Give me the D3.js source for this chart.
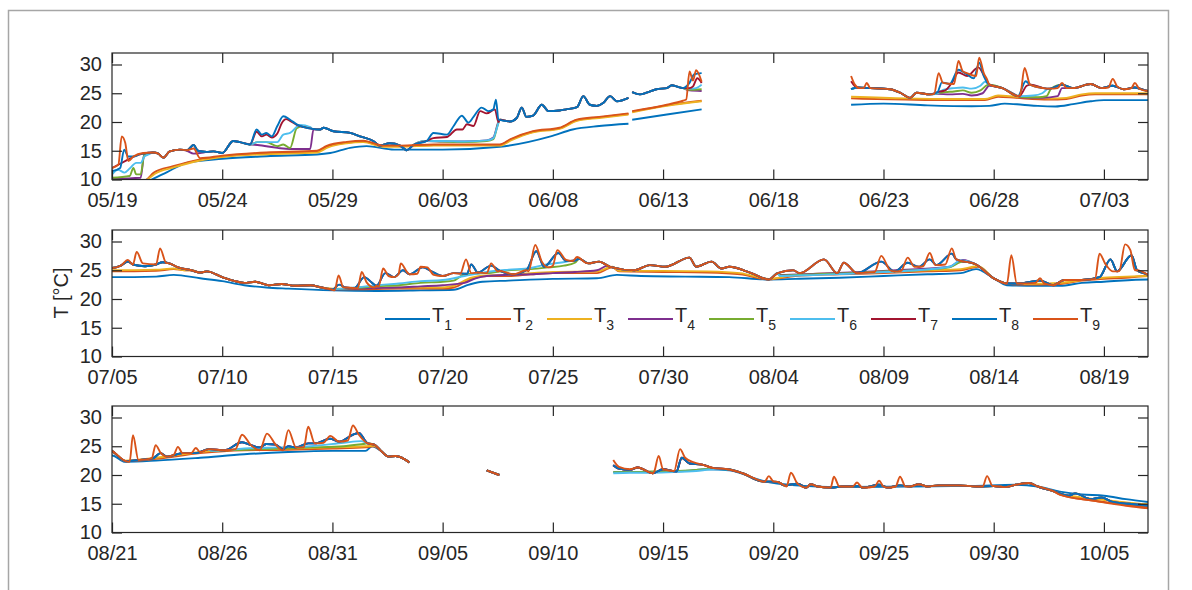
<!DOCTYPE html>
<html>
<head>
<meta charset="utf-8">
<script src="https://cdn.jsdelivr.net/npm/d3@7"></script>
<style>
body{margin:0;background:#fff;}
text{font-family:"Liberation Sans",Arial,Helvetica,sans-serif;fill:#262626;}
</style>
</head>
<body>
<svg id="chart" width="1192" height="590"></svg>
<script>
// days counted from 05/19 (day 0); every panel shows 47 days
const seriesNames=["1","2","3","4","5","6","7","8","9"];
const colors=["#0072BD","#D95319","#EDB120","#7E2F8E","#77AC30","#4DBEEE","#A2142F","#0072BD","#D95319"];
const panelStarts=[0,47,94];
const yTicks=[10,15,20,25,30];

// common track of the upper sensors, one array per data block
const baseA=[[0,12.0],[0.7,13.4],[1.0,14.0],[1.4,14.5],[1.87,14.7],[2.1,14.5],[2.33,13.8],[2.62,14.9],[3.08,15.2],[3.4,15.1],[3.7,16.0],[3.9,15.0],[4.3,14.8],[4.6,14.9],[5.0,14.6],[5.5,16.7],[5.8,16.5],[6.26,16.1],[6.56,18.7],[6.8,17.8],[7.0,18.1],[7.25,17.5],[7.5,19.3],[7.77,21.0],[8.08,20.4],[8.38,19.6],[8.7,19.1],[9.1,18.8],[9.44,18.7],[9.6,19.0],[10.05,18.4],[10.8,18.1],[11.25,17.5],[11.85,16.7],[12.15,15.9],[12.6,16.3],[13.07,15.9],[13.37,15.1],[13.67,16.0],[14.28,16.7],[14.58,18.1],[15.2,17.8],[15.5,19.3],[15.87,21.1],[16.17,19.9],[16.4,20.9],[16.77,22.5],[17.07,21.9],[17.3,22.2],[17.42,23.9],[17.53,20.4],[18.06,20.1],[18.36,20.7],[18.59,22.5],[18.8,20.9],[19.1,21.1],[19.5,23.0],[19.8,21.9],[20.3,22.0],[20.6,22.2],[21.1,22.6],[21.38,24.5],[21.68,23.0],[22.0,22.8],[22.28,23.3],[22.6,24.5],[22.9,23.6],[23.43,24.2]];
const baseB=[[23.6,25.2],[23.95,24.8],[24.25,25.1],[24.7,25.7],[25.17,25.9],[25.4,26.4],[25.6,26.2],[25.9,25.9],[26.2,26.8],[26.42,28.3],[26.75,28.5]];
const baseC=[[33.53,25.7],[33.8,26.0],[34.4,25.9],[35.3,25.7],[35.8,25.0],[36.2,24.2],[36.5,25.1],[37.1,24.8],[37.45,25.2],[37.65,26.9],[38.0,26.6],[38.4,29.1],[38.78,28.3],[39.1,27.6],[39.34,30.3],[39.55,28.0],[39.8,26.5],[40.4,25.9],[41.1,24.5],[41.45,27.1],[41.65,26.5],[42.25,25.9],[42.55,25.8],[43.1,26.5],[43.6,25.9],[44.4,26.6],[44.9,25.9],[45.4,26.3],[45.9,25.7],[46.4,26.0],[47.0,25.4],[47.4,25.8],[47.72,26.5],[47.95,26.0],[48.5,25.7],[49.0,26.0],[49.3,26.4],[49.6,26.2],[50.0,25.5],[50.6,25.0],[51.0,24.6],[51.3,24.8],[52.0,23.8],[52.5,23.2],[53.0,22.8],[53.5,23.0],[54.1,22.4],[54.7,22.6],[55.3,22.3],[56.0,22.4],[56.5,22.0],[57.0,21.6],[57.3,22.5],[57.6,22.0],[58.0,21.9],[58.45,23.8],[58.8,22.8],[59.0,22.3],[59.4,24.5],[59.8,23.8],[60.2,25.0],[60.5,24.3],[61.1,25.5],[61.5,24.8],[62.0,24.0],[62.5,24.5],[63.1,24.4],[63.3,26.0],[63.6,24.6],[64.2,25.8],[64.6,24.9],[65.2,24.3],[65.8,25.0],[66.25,28.3],[66.6,25.6],[67.25,28.0],[67.6,26.6],[68.0,26.7],[68.2,27.0],[68.6,26.2],[69.1,26.5],[69.6,25.6],[70.7,25.0],[71.4,25.9],[72.1,25.6],[73.2,27.2],[73.5,25.6],[74.2,26.5],[74.65,25.3],[75.0,25.6],[76.0,24.5],[76.8,23.4],[77.2,24.5],[77.9,25.0],[78.2,24.5],[79.3,26.9],[79.9,24.5],[80.2,26.3],[80.8,24.5],[81.9,26.5],[82.5,24.8],[83.1,26.3],[83.6,25.6],[84.1,26.9],[84.4,25.9],[85.1,27.9],[85.3,26.9],[86.2,26.0],[87.0,23.6],[87.6,22.7],[88.2,22.7],[89.1,23.2],[89.7,22.4],[90.2,23.3],[91.0,23.3],[91.8,23.8],[92.3,26.9],[92.6,24.8],[93.25,27.6],[93.5,25.0],[94.0,24.2],[94.64,22.4],[95.2,22.6],[95.86,22.9],[96.2,23.8],[96.5,23.2],[97.2,23.8],[97.8,23.8],[98.4,24.5],[99.1,24.3],[99.9,25.7],[100.3,25.2],[100.7,24.8],[101.0,25.4],[101.4,25.3],[101.75,24.5],[102.0,25.0],[102.35,24.8],[102.9,25.5],[103.2,25.5],[103.9,26.3],[104.3,25.8],[104.93,27.0],[105.2,27.3],[105.6,25.5],[105.9,25.3],[106.2,24.2],[106.55,23.2],[106.87,23.3],[107.49,22.2]];
const baseD=[[111.0,20.8],[111.57,20.0]];
const baseE=[[116.74,21.7],[117.0,21.1],[117.5,20.9],[117.85,21.3],[118.54,20.3],[119.0,21.0],[119.6,20.6],[119.85,23.0],[120.2,22.0],[120.77,21.8],[121.3,21.2],[121.95,21.0],[122.6,20.3],[123.5,18.9],[124.2,18.8],[124.5,18.2],[125.1,18.5],[125.5,17.8],[125.7,18.4],[126.0,18.0],[126.6,17.8],[127.1,18.0],[127.8,18.1],[128.1,17.8],[128.8,18.3],[129.2,17.8],[129.75,18.2],[130.2,18.0],[130.6,18.4],[131.0,18.0],[131.5,18.2],[132.4,18.2],[133.25,18.0],[134.0,18.1],[134.5,17.9],[135.0,18.3],[135.6,18.6],[136.0,18.0],[136.7,17.2],[137.4,16.4],[137.7,16.8],[138.4,15.8],[138.9,16.1],[139.4,15.3],[140.1,15.0],[141,14.7]];

// T1, deepest sensor, own track
const t1Segs=[
  [[0,8.0],[1.8,10.0],[2.5,11.3],[3.4,12.9],[5,13.6],[7,14.05],[9.3,14.35],[9.9,14.6],[10.8,15.5],[11.55,15.8],[12.8,15.2],[15,15.2],[17.6,15.7],[19.9,17.5],[20.9,18.7],[22.1,19.3],[23.43,19.7]],
  [[23.6,20.4],[25.17,21.3],[26.75,22.2]],
  [[33.53,23.0],[35,23.2],[37,22.9],[39,22.75],[39.8,22.8],[40.5,23.2],[41.3,23.0],[42,22.8],[42.8,22.7],[43.6,23.1],[44.4,23.6],[45,23.8],[47,23.8],[49,23.9],[49.8,24.2],[51,23.6],[52,23.1],[53,22.4],[54,22.0],[55,21.8],[57,21.5],[59,21.4],[61,21.5],[62.5,21.6],[63.2,22.5],[63.8,23.0],[65,23.2],[67,23.5],[69,23.6],[69.9,24.2],[71,24.0],[73,23.9],[75,23.8],[76.8,23.4],[78,23.5],[80,23.7],[82,24.0],[84,24.3],[85.5,24.5],[86.2,25.2],[87,23.6],[87.6,22.4],[89,22.3],[90,22.3],[91,22.8],[92,23.0],[94,23.4],[94.6,22.3],[96,22.5],[98,23.0],[100,23.6],[102,24.0],[104,24.2],[105.5,24.2],[105.8,25.0],[106.2,24.2],[106.55,23.2],[106.87,23.3],[107.49,22.2]],
  [[111.0,20.8],[111.57,20.0]],
  [[116.74,20.5],[118,20.5],[120,20.7],[121,21.0],[122,20.8],[123.5,19.0],[125,18.2],[127,17.9],[130,18.0],[133,18.1],[135,18.3],[136,18.0],[137,17.1],[138,16.6],[139,16.4],[140,15.8],[141,15.3]]
];

// stretches where a sensor leaves the common track
const t2Eps=[
  [[0,8.0],[1.57,10.0],[1.9,11.2],[2.77,12.3],[4.0,13.5],[5,14.0],[7,14.55],[9.3,14.85],[9.74,15.7],[10.65,16.4],[11.4,16.6],[12.3,15.8],[13.07,15.8],[14.6,16.0],[17.6,16.0],[18.06,16.9],[19.1,18.3],[20.3,18.9],[21.08,20.3],[22.1,20.8],[23.43,21.4]],
  [[23.6,21.8],[25.17,22.9],[26.75,23.7]],
  [[33.53,24.1],[36,23.9],[38,23.8],[39.6,23.8],[40.2,24.4],[41,24.2],[42.5,23.9],[43.3,24.0],[44,24.6],[44.6,24.8],[47,24.8],[49,24.9],[49.8,25.2],[50.3,25.0]],
  [[56.5,22.0],[57,21.7],[58,21.7],[60,21.8],[62,21.8],[62.5,22.0],[63.3,23.5],[64,24.0],[65,24.0],[66,24.3],[67,24.5],[69,24.5],[69.7,25.5]],
  [[70.0,24.8],[72,24.7],[74,24.6],[75.5,24.3],[76.8,23.4],[78,24.0],[80,24.3],[82,24.5],[84,24.8],[85.5,25.0],[86.3,25.6]],
  [[88.2,22.5],[90,22.6],[91,23.2],[92,23.5],[93,23.7],[94,24.0],[94.6,22.4],[96,22.8],[98,23.8],[100,24.3],[102,24.4],[104,24.6],[105.5,24.8],[105.9,25.0]],
  [[137,16.6],[138.4,15.6],[139.4,15.1],[140.1,14.8],[141,14.4]]
];
const t3Eps=[
  [[0,8.0],[1.6,10.0],[1.95,11.0],[2.8,12.1],[4.0,13.3],[5,13.9],[7,14.4],[9.3,14.7],[9.8,15.6],[10.65,16.3],[11.4,16.5],[12.3,15.7],[13.07,15.7],[14.6,15.9],[17.6,15.9],[18.1,16.8],[19.1,18.2],[20.3,18.8],[21.1,20.2],[22.1,20.7],[23.43,21.3]],
  [[23.6,21.7],[25.17,22.8],[26.75,23.6]],
  [[33.53,24.4],[36,24.1],[38,24.0],[39.6,24.0],[40.2,24.6],[41,24.4],[42.5,24.1],[43.3,24.2],[44,24.8],[44.6,25.0],[47,25.0],[49,25.1],[49.8,25.3],[50.3,25.0]],
  [[56.5,22.0],[57,21.8],[58,21.9],[60,22.0],[62,22.0],[62.5,22.3],[63.3,23.7],[64,24.1],[65,24.2],[66,24.5],[67,24.7],[69,24.8],[69.7,25.6]],
  [[70.0,24.9],[72,24.9],[74,24.8],[75.5,24.5],[76.8,23.5],[78,24.2],[80,24.5],[82,24.7],[84,25.0],[85.5,25.2],[86.3,25.7]],
  [[88.2,22.6],[90,22.8],[91,23.3],[92,23.7],[93,23.9],[94,24.0],[94.6,22.5],[96,23.0],[98,24.0],[100,24.5],[102,24.6],[104,24.8],[105.5,25.0],[105.9,25.1]],
  [[137,16.8],[138.4,15.9],[139.4,15.5],[140.1,15.2],[141,14.9]]
];
const t4Eps=[
  [[0,10.1],[1.3,10.3],[1.47,14.5],[1.66,14.6]],
  [[3.4,15.0],[3.7,14.5],[4.0,14.6]],
  [[6.26,16.1],[6.6,16.0],[7.5,15.5],[8.08,15.3],[8.99,15.3],[9.14,18.7],[9.44,18.7]],
  [[14.28,16.7],[15,16.6],[16,16.6],[17,16.8],[17.3,17.3],[17.53,20.0],[17.6,20.4]],
  [[26.2,25.5],[26.75,25.4]],
  [[37.45,24.9],[38,24.8],[38.6,24.9],[39.0,24.6],[39.5,25.0],[39.8,26.3]],
  [[41.2,24.3],[42.2,24.2],[42.9,24.5],[43.1,25.9]],
  [[57.0,21.7],[58,21.8],[59,21.9],[60,22.0],[61,22.2],[62,22.4],[63,22.8],[63.5,23.6],[64,24.0],[65,24.2],[66,24.3],[67,24.5],[68,24.7],[69,25.0],[69.5,25.8]],
  [[77.3,24.2],[79,24.4],[80.5,24.6],[82,24.9],[83.5,25.2],[85.0,25.6],[85.6,26.8]]
];
const t5Eps=[
  [[0,10.3],[0.8,10.6],[0.97,12.0],[1.1,10.9],[1.3,10.9],[1.47,14.35],[1.66,14.5]],
  [[6.26,16.1],[6.6,16.5],[7.0,16.5],[7.5,15.8],[7.77,16.1],[8.08,15.5],[8.38,18.9],[8.68,19.3],[8.99,19.0]],
  [[14.28,16.7],[15,16.6],[16,16.5],[17,16.7],[17.3,17.0],[17.5,19.5],[17.6,20.4]],
  [[26.2,25.6],[26.75,25.7]],
  [[37.45,25.0],[37.8,25.2],[38.2,25.3],[38.6,25.5],[39.0,25.1],[39.4,25.5],[39.7,26.4],[39.8,26.5]],
  [[41.2,24.4],[42.0,24.3],[42.4,24.5],[42.6,25.8]],
  [[57.0,21.7],[58,21.9],[59,22.2],[60,22.4],[61,22.8],[62,23.0],[62.5,23.2],[63,24.3],[64,24.5],[65,25.0],[66,25.2],[66.8,25.5],[67.5,25.8],[68,26.3]],
  [[77.3,24.1],[79,24.3],[80.5,24.5],[82,24.8],[83.5,25.0],[85.0,25.5],[85.6,26.5]],
  [[98.5,24.2],[100,24.4],[101.5,24.6],[103,24.8],[104.5,25.0],[105.4,25.4]],
  [[116.74,20.5],[117.5,20.5],[118.5,20.6],[119.5,20.7],[120.5,20.9],[121.3,21.1]]
];
const t6Eps=[
  [[0,10.9],[0.27,11.7],[0.57,11.2],[0.8,11.9],[1.1,12.9],[1.3,12.9],[1.47,14.0],[1.66,14.35]],
  [[6.26,16.1],[6.6,16.5],[7.5,16.5],[7.77,17.8],[8.08,18.1],[8.53,19.5],[8.99,19.1]],
  [[14.28,16.7],[15,16.7],[16,16.6],[17,16.8],[17.3,17.2],[17.45,18.8],[17.6,20.4]],
  [[26.2,25.8],[26.5,25.9],[26.75,26.5]],
  [[37.45,25.0],[37.7,25.6],[38.2,25.9],[38.6,26.0],[39.0,25.8],[39.4,26.3],[39.6,27.0],[39.8,26.5]],
  [[41.2,24.5],[41.8,24.6],[42.2,25.0],[42.5,25.8]],
  [[57.0,21.7],[58,22.0],[59,22.4],[60,22.7],[61,23.1],[62,23.3],[63,24.0],[64,24.7],[65,25.1],[66,25.4],[66.7,26.0],[67.3,26.3],[67.8,26.6]],
  [[77.3,24.0],[79,24.2],[80.5,24.4],[82,24.7],[83.5,25.0],[85.0,25.6],[85.5,26.7]],
  [[98.5,24.2],[100,24.6],[101.5,24.8],[103,25.0],[104.5,25.6],[105.3,25.9]],
  [[116.74,20.3],[117.5,20.4],[118.5,20.4],[119.5,20.5],[120.5,20.7],[121.3,21.0]]
];
const t7Eps=[
  [[6.26,16.1],[6.56,18.3],[6.8,17.5],[7.0,17.8],[7.25,17.3],[7.5,18.0],[7.7,19.8],[7.9,20.5],[8.08,20.2],[8.38,19.5]],
  [[14.28,16.7],[14.58,17.2],[15.2,17.4],[15.65,18.7],[15.9,18.7],[16.1,19.6],[16.4,19.3],[16.7,21.9],[17.0,21.5],[17.37,22.2],[17.53,20.0],[17.6,20.4]],
  [[26.2,25.9],[26.36,26.2],[26.55,27.6],[26.75,26.8]],
  [[33.53,27.1],[33.8,26.0]],
  [[37.45,25.2],[37.8,25.5],[38.1,26.8],[38.4,28.6],[38.8,28.0],[39.3,29.5],[39.6,27.8],[39.8,26.5]],
  [[41.2,24.6],[41.5,26.3],[41.7,26.5]]
];
const t8Eps=[
  [[0,11.45],[0.37,12.0],[0.55,15.2],[0.74,14.0],[0.97,14.0],[1.27,14.4]]
];
const t9Eps=[
  [[0,12.0],[0.29,12.6],[0.44,17.5],[0.6,16.4],[0.74,13.2],[0.97,14.0],[1.42,14.6],[1.87,14.7],[2.1,14.5],[2.33,13.8],[2.62,14.9],[3.08,15.2],[3.4,15.1],[3.7,15.4],[4.0,13.7],[5,14.15],[7,14.7],[9.3,15.0],[9.74,15.85],[10.65,16.55],[11.4,16.75],[12.3,15.9],[13.07,15.9],[14.6,16.1],[17.6,16.1],[18.06,17.0],[19.1,18.4],[20.3,19.0],[21.08,20.4],[22.1,20.9],[23.43,21.5]],
  [[23.6,21.9],[25.17,23.0],[25.9,23.7],[26.05,23.9],[26.2,28.8],[26.36,27.2],[26.5,29.0],[26.75,27.0]],
  [[33.53,28.0],[33.7,26.5],[33.9,25.9]],
  [[34.1,25.9],[34.24,26.8],[34.4,25.9]],
  [[37.3,24.9],[37.5,28.5],[37.7,26.8],[38.2,26.6],[38.4,30.6],[38.6,28.8],[38.78,28.5],[39.2,28.0],[39.34,31.2],[39.55,28.5],[39.7,27.4],[39.8,26.5]],
  [[41.2,24.7],[41.4,29.4],[41.65,26.5]],
  [[42.9,25.9],[43.1,26.8],[43.3,25.9]],
  [[45.2,26.0],[45.4,27.5],[45.6,26.2]],
  [[46.25,25.9],[46.4,26.8],[46.6,25.8]],
  [[47.4,25.8],[47.72,26.8],[47.95,26.0],[48.12,28.2],[48.4,26.2],[49.0,26.0],[49.18,28.8],[49.45,26.3]],
  [[57.1,21.5],[57.28,24.1],[57.5,22.0]],
  [[58.15,21.9],[58.33,24.7],[58.55,22.9],[58.9,22.0]],
  [[59.1,22.2],[59.3,25.3],[59.55,24.0]],
  [[60.0,24.3],[60.1,26.2],[60.4,24.6]],
  [[60.85,24.4],[61.0,25.6],[61.3,25.5],[61.6,24.2]],
  [[62.8,24.4],[63.06,26.9],[63.3,24.5]],
  [[64.0,24.5],[64.2,26.2],[64.5,24.8]],
  [[65.9,24.8],[66.2,29.4],[66.5,26.5],[66.8,25.5]],
  [[67.0,25.8],[67.2,28.5],[67.6,26.8]],
  [[67.9,26.6],[68.1,27.3],[68.5,26.3]],
  [[81.6,24.7],[81.9,27.5],[82.3,25.0]],
  [[82.8,24.9],[83.1,27.2],[83.4,25.6]],
  [[83.8,25.7],[84.1,28.0],[84.35,25.9]],
  [[84.8,26.0],[85.1,28.8],[85.3,26.9]],
  [[87.6,22.7],[87.8,27.6],[88.05,22.7]],
  [[88.9,22.8],[89.1,23.6],[89.3,22.7]],
  [[91.6,23.5],[91.8,27.9],[92.05,26.2],[92.4,24.8]],
  [[92.7,24.9],[92.96,29.5],[93.2,28.5],[93.4,25.0]],
  [[94.8,22.3],[94.95,26.9],[95.2,22.6]],
  [[95.8,22.9],[95.98,25.2],[96.2,23.9]],
  [[96.8,23.5],[96.99,24.9],[97.2,23.8]],
  [[97.6,23.8],[97.8,24.7],[98.0,24.0]],
  [[99.6,24.5],[99.9,27.0],[100.3,25.2]],
  [[100.7,24.3],[101.03,27.2],[101.42,25.3]],
  [[101.75,24.3],[102.0,27.8],[102.35,24.8]],
  [[102.7,24.8],[102.9,28.4],[103.2,25.5]],
  [[103.6,25.6],[103.9,26.8],[104.3,25.8]],
  [[104.7,26.0],[104.93,28.6],[105.2,27.0]],
  [[116.74,22.6],[117.0,21.4],[117.5,21.0]],
  [[118.6,20.6],[118.8,23.3],[119.0,21.0]],
  [[119.5,20.7],[119.77,24.5],[120.0,23.0],[120.4,22.2]],
  [[123.6,18.8],[123.8,19.8],[124.0,18.9]],
  [[124.6,18.0],[124.8,20.4],[125.1,18.5]],
  [[126.6,17.8],[126.75,19.7],[127.0,18.0]],
  [[127.6,18.0],[127.8,18.7],[128.0,17.9]],
  [[128.6,18.0],[128.8,19.0],[129.0,18.0]],
  [[129.55,18.0],[129.75,19.7],[130.0,18.0]],
  [[133.5,18.0],[133.7,19.8],[133.95,18.1]],
  [[137,16.6],[138.4,15.6],[139.4,15.0],[140.1,14.6],[141,14.2]]
];

// setup
const svgWidth=1192, svgHeight=590;
const plotLeft=112, plotRight=1148;
const panelTops=[53,230,406];
const panelH=126.5;
const startDate=new Date(Date.UTC(2018,4,19));
const fmt=d3.utcFormat("%m/%d");
const axisColor="#262626";

const svg=d3.select("#chart");

// figure frame
svg.append("rect")
  .attr("x",8.5).attr("y",10.5)
  .attr("width",1160).attr("height",620)
  .attr("fill","none")
  .attr("stroke","#a6a6a6")
  .attr("stroke-width",1.5);

const baseSegs=[baseA,baseB,baseC,baseD,baseE];

// put a sensor's own stretches into the common track
function withEpisodes(eps){
  return baseSegs.map(seg=>{
    const lo=seg[0][0], hi=seg[seg.length-1][0];
    const mine=eps.filter(e=>e[0][0]>=lo && e[0][0]<=hi);
    const kept=seg.filter(p=>!mine.some(e=>p[0]>=e[0][0] && p[0]<=e[e.length-1][0]));
    return kept.concat(...mine).sort((a,b)=>a[0]-b[0]);
  });
}

const allSeries=[
  t1Segs,
  withEpisodes(t2Eps),
  withEpisodes(t3Eps),
  withEpisodes(t4Eps),
  withEpisodes(t5Eps),
  withEpisodes(t6Eps),
  withEpisodes(t7Eps),
  withEpisodes(t8Eps),
  withEpisodes(t9Eps)
];

panelStarts.forEach((start,i)=>{
  const top=panelTops[i];
  const xScale=d3.scaleLinear().domain([start,start+47]).range([plotLeft,plotRight]);
  const yScale=d3.scaleLinear().domain([10,32]).range([top+panelH,top]);
  const xTicks=d3.range(0,47,5).map(k=>start+k);

  svg.append("clipPath").attr("id","clip"+i)
    .append("rect")
    .attr("x",plotLeft).attr("y",top)
    .attr("width",plotRight-plotLeft).attr("height",panelH);

  const lineGroup=svg.append("g").attr("clip-path",`url(#clip${i})`);
  const line=d3.line().x(d=>xScale(d[0])).y(d=>yScale(d[1])).curve(d3.curveMonotoneX);

  allSeries.forEach((segs,k)=>{
    lineGroup.selectAll(null)
      .data(segs)
      .enter()
      .append("path")
      .attr("d",line)
      .attr("fill","none")
      .attr("stroke",colors[k])
      .attr("stroke-width",1.9)
      .attr("stroke-linejoin","round");
  });

  // axes, ticks pointing inward like the original
  const bottomAxis=d3.axisBottom(xScale).tickValues(xTicks)
    .tickFormat(d=>fmt(d3.utcDay.offset(startDate,d)))
    .tickSizeInner(-10).tickSizeOuter(0).tickPadding(13);
  const topAxis=d3.axisTop(xScale).tickValues(xTicks).tickFormat("")
    .tickSizeInner(-10).tickSizeOuter(0);
  const leftAxis=d3.axisLeft(yScale).tickValues(yTicks)
    .tickSizeInner(-10).tickSizeOuter(0).tickPadding(10);
  const rightAxis=d3.axisRight(yScale).tickValues(yTicks).tickFormat("")
    .tickSizeInner(-10).tickSizeOuter(0);

  const axes=[
    svg.append("g").attr("transform",`translate(0,${top+panelH})`).call(bottomAxis),
    svg.append("g").attr("transform",`translate(0,${top})`).call(topAxis),
    svg.append("g").attr("transform",`translate(${plotLeft},0)`).call(leftAxis),
    svg.append("g").attr("transform",`translate(${plotRight},0)`).call(rightAxis)
  ];
  axes.forEach(a=>{
    a.select(".domain").remove();
    a.selectAll(".tick line").attr("stroke",axisColor).attr("stroke-width",1.2);
    a.selectAll(".tick text").attr("fill",axisColor).attr("font-size",20)
      .attr("font-family","'Liberation Sans',Arial,Helvetica,sans-serif");
  });

  svg.append("rect")
    .attr("x",plotLeft).attr("y",top)
    .attr("width",plotRight-plotLeft).attr("height",panelH)
    .attr("fill","none")
    .attr("stroke",axisColor)
    .attr("stroke-width",1.2);
});

// y label
svg.append("text")
  .attr("transform","translate(68,293)rotate(-90)")
  .attr("text-anchor","middle")
  .attr("font-size",20)
  .text("T [°C]");

// legend inside the middle panel
const legend=svg.append("g");
seriesNames.forEach((name,k)=>{
  const lx=385+81*k;
  legend.append("line")
    .attr("x1",lx).attr("x2",lx+45)
    .attr("y1",319).attr("y2",319)
    .attr("stroke",colors[k])
    .attr("stroke-width",1.8);
  const t=legend.append("text")
    .attr("x",lx+47).attr("y",322)
    .attr("font-size",20)
    .text("T");
  t.append("tspan")
    .attr("dy",8)
    .attr("font-size",14)
    .text(name);
});
</script>
</body>
</html>
